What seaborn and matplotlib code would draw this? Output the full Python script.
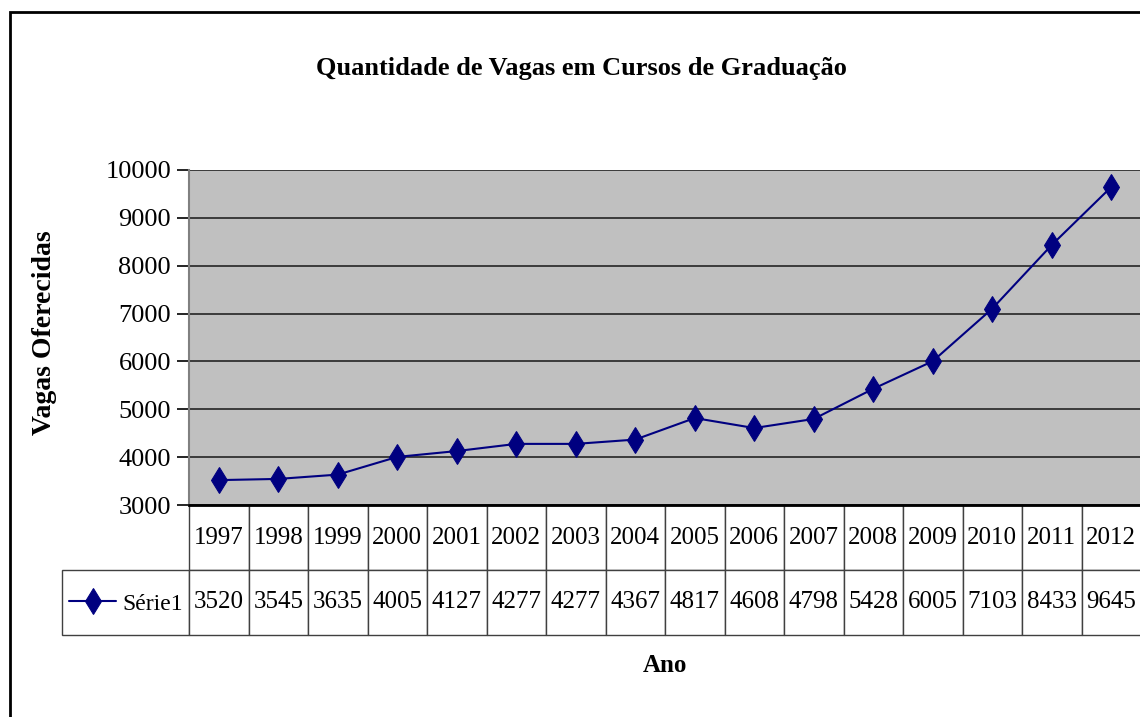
"""
Quantidade de Vagas em Cursos de Graduação
Linjediagram med datatabell under (Excel-stil), laget med seaborn.
"""
import matplotlib
matplotlib.use("Agg")
import matplotlib.pyplot as plt
import pandas as pd
import seaborn as sns
from matplotlib.patches import Rectangle

# Data lest av bildet
years = ["1997", "1998", "1999", "2000", "2001", "2002", "2003", "2004",
         "2005", "2006", "2007", "2008", "2009", "2010", "2011", "2012"]
vagas = [3520, 3545, 3635, 4005, 4127, 4277, 4277, 4367,
         4817, 4608, 4798, 5428, 6005, 7103, 8433, 9645]
series_name = "Série1"
y_ticks = [3000, 4000, 5000, 6000, 7000, 8000, 9000, 10000]

sns.set_style("white")
plt.rcParams["font.family"] = ["Liberation Serif", "DejaVu Serif"]
plt.rcParams["text.color"] = "black"
plt.rcParams["ytick.color"] = "black"
plt.rcParams["ytick.labelcolor"] = "black"

NAVY = "#000080"
W, H = 1140, 717

fig = plt.figure(figsize=(W / 100, H / 100), dpi=100)

# Plotområde i piksler
left, right, top, bottom = 189, 1141, 170, 505
ax = fig.add_axes([left / W, 1 - bottom / H, (right - left) / W, (bottom - top) / H])
ax.set_facecolor("#C0C0C0")

df = pd.DataFrame({"Ano": range(len(years)), "Vagas": vagas})
sns.lineplot(data=df, x="Ano", y="Vagas", ax=ax, color=NAVY, linewidth=1.5,
             marker="d", markersize=13, markeredgecolor=NAVY,
             markerfacecolor=NAVY, label=series_name, legend=False)

ax.set_xlim(-0.5, len(years) - 0.5)
ax.set_ylim(y_ticks[0], y_ticks[-1])
ax.set_yticks(y_ticks)
ax.set_yticklabels([str(t) for t in y_ticks], fontsize=19)
ax.set_xticks([])
ax.set_xlabel("")
ax.set_ylabel("")
ax.yaxis.grid(True, color="#303030", linewidth=1.3)
ax.set_axisbelow(True)
ax.tick_params(axis="y", direction="out", length=9, width=1.2, color="black",
               pad=4, left=True)

for side in ["top", "right"]:
    ax.spines[side].set_visible(False)
ax.spines["left"].set_color("#808080")
ax.spines["left"].set_linewidth(1.5)
ax.spines["bottom"].set_color("black")
ax.spines["bottom"].set_linewidth(2)

# Datatabell under plottet
ax_w = right - left
ax_h = bottom - top
tab_left = 62
row_h = 65
cell_text = [[""] + years, [""] + [str(v) for v in vagas]]
col_widths = [(left - tab_left)] + [ax_w / len(years)] * len(years)
tot = sum(col_widths)
table = ax.table(cellText=cell_text,
                 colWidths=[c / tot for c in col_widths],
                 cellLoc="center",
                 bbox=[(tab_left - left) / ax_w, -2 * row_h / ax_h,
                       (right - tab_left) / ax_w, 2 * row_h / ax_h])
table.auto_set_font_size(False)
for (r, c), cell in table.get_celld().items():
    cell.set_edgecolor("#404040")
    cell.set_linewidth(1.0)
    cell.set_text_props(fontsize=18, color="black", va="center")
    cell.PAD = 0.02
    if r == 0 and c == 0:
        cell.visible_edges = ""

# Legendenøkkel i første celle av dataraden
leg = ax.legend(loc="center left", frameon=False, fontsize=17,
                handlelength=2.0, handletextpad=0.25, borderaxespad=0,
                borderpad=0,
                bbox_to_anchor=((tab_left + 7 - left) / ax_w,
                                -1.52 * row_h / ax_h))

# Titler
fig.text(581 / W, 1 - 68 / H,
         "Quantidade de Vagas em Cursos de Graduação",
         ha="center", va="center", fontsize=19, fontweight="bold")
fig.text(45 / W, 1 - 333 / H, "Vagas Oferecidas", rotation=90,
         ha="center", va="center", fontsize=20, fontweight="bold")
fig.text(665 / W, 1 - 665 / H, "Ano", ha="center", va="center",
         fontsize=18, fontweight="bold")

# Ramme rundt diagrammet
fig.patches.append(Rectangle((10 / W, -0.05), 1.1, 1 - 12 / H + 0.05,
                             transform=fig.transFigure, fill=False,
                             edgecolor="black", linewidth=2))

fig.savefig("out.png", dpi=100)
